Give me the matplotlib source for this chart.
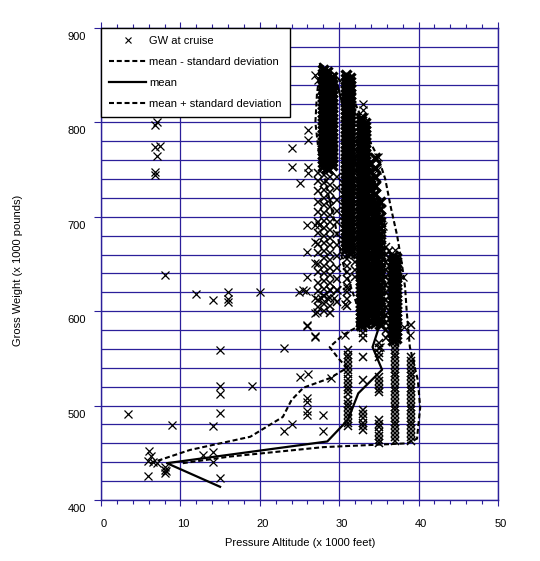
import matplotlib
matplotlib.use("Agg")
import matplotlib.pyplot as plt
import matplotlib.transforms as mtransforms
from matplotlib.lines import Line2D
from matplotlib.ticker import MultipleLocator

plt.rcParams['font.family'] = ['Liberation Sans', 'DejaVu Sans']
plt.rcParams['lines.scale_dashes'] = False

# ---------------- data ----------------
x_ticks = [0, 10, 20, 30, 40, 50]
y_ticks = [400, 500, 600, 700, 800, 900]

legend_labels = ["GW at cruise", "mean - standard deviation", "mean",
                 "mean + standard deviation"]

# mean line (altitude, gross weight)
mean_alt = [15.0, 8.3, 28.5, 31.1, 32.4, 35.4, 34.2, 35.0, 35.5, 35.3, 34.8,
            34.0, 33.0, 32.0, 31.0, 29.8, 27.6]
mean_gw = [414, 439, 462, 485, 513, 538, 562, 583, 598, 610, 640,
           680, 720, 760, 800, 839, 862]

minus_alt = [6.2, 11.2, 18.8, 22.9, 24.0, 25.5, 28.8, 31.0, 29.9, 28.8, 30.5,
             32.2, 32.5, 31.5, 30.5, 29.8, 29.0, 28.2, 27.4, 27.0, 27.2, 27.5, 27.6]
minus_gw = [439, 453, 467, 488, 506, 519, 529, 540, 550, 562, 575,
            583, 600, 625, 650, 680, 710, 740, 770, 800, 830, 850, 862]

plus_alt = [10.3, 16.2, 28.0, 38.5, 39.8, 40.2, 39.9, 38.9, 38.5, 38.3, 37.9,
            37.3, 36.5, 35.8, 34.9, 33.6, 32.8, 31.5, 29.5, 27.6]
plus_gw = [439, 446, 456, 460, 465, 498, 527, 562, 600, 625, 650,
           680, 710, 740, 763, 784, 805, 830, 850, 862]

# scattered cruise points (altitude, gross weight)
sparse_alt = [3.4, 9.0, 6.0, 6.3, 5.9, 6.5, 5.9, 7.0, 8.0, 8.1, 8.0, 8.2, 6.8, 7.0,
              6.8, 7.4, 7.0, 6.8, 6.8, 8.1, 12.0, 14.1, 16.0, 16.0, 16.0, 20.0, 15.0,
              23.0, 15.0, 19.0, 15.0, 15.0, 14.1, 12.8, 14.1, 14.1, 15.0,
              24.9, 25.8, 28.0, 27.2, 26.0, 27.0, 25.0, 26.1, 25.9, 25.9, 25.9, 25.9,
              28.0, 28.0, 24.0, 23.0, 29.0, 26.1, 26.1, 24.0, 24.0, 25.1, 26.1, 26.1,
              25.9, 27.0, 27.5, 27.0, 25.9, 27.0, 25.9, 25.4, 27.0, 27.7, 28.5, 29.3,
              27.0, 27.0, 27.3, 33.0, 33.0, 33.1, 34.9, 34.8, 35.1, 35.5, 37.0, 38.0,
              38.2, 38.9, 30.7, 30.7, 31.0, 28.8, 29.7, 35.1, 27.0, 25.9]
sparse_gw = [491, 479, 452, 447, 441, 440, 425, 439, 435, 432, 429, 431, 797, 800,
             774, 775, 764, 747, 744, 638, 618, 612, 620, 613, 610, 620, 559,
             561, 521, 521, 512, 492, 478, 448, 451, 440, 423,
             620, 621, 617, 599, 584, 574, 530, 533, 508, 504, 494, 490,
             490, 473, 481, 473, 529, 792, 781, 773, 753, 736, 753, 746,
             691, 691, 691, 673, 663, 651, 636, 622, 614, 614, 614, 614,
             598, 850, 845, 820, 813, 806, 763, 750, 693, 690, 665, 636,
             583, 575, 575, 608, 625, 622, 622, 562, 573, 585]

# flight-level columns with many cruise points: column altitude, weights
col_alt = [27.9, 28.5, 29.1, 27.3, 28.1, 28.9, 29.7, 30.8, 31.3, 31.0, 32.0,
           32.7, 33.2, 33.9, 34.5, 35.1, 35.9, 36.3, 36.8, 37.2,
           31.1, 33.0, 35.0, 37.0, 39.1]
col_gw = [
    [754, 758, 762, 767, 771, 775, 779, 783, 787, 791, 795, 799, 803, 807, 811,
     815, 819, 823, 827, 831, 835, 839, 843, 847, 851, 855],
    [752, 756, 760, 764, 769, 773, 777, 781, 785, 789, 793, 797, 801, 805, 809,
     813, 817, 821, 825, 829, 833, 837, 841, 845, 849, 853],
    [755, 759, 763, 767, 771, 776, 780, 784, 788, 792, 796, 800, 804, 808, 812,
     816, 820, 824, 828, 832, 836, 840, 844, 848],
    [604, 612, 621, 630, 641, 650, 662, 671, 683, 694, 705, 716, 727, 738, 746],
    [600, 608, 616, 624, 632, 640, 648, 656, 664, 672, 680, 688, 696, 704, 712,
     720, 728, 736, 744],
    [598, 606, 614, 622, 630, 638, 646, 654, 662, 670, 678, 686, 694, 702, 710,
     718, 726, 734, 742, 750],
    [610, 622, 634, 646, 658, 670, 682, 694, 706, 718, 730, 742],
    [666, 670, 674, 678, 682, 686, 690, 694, 698, 702, 706, 710, 714, 718, 722,
     726, 730, 734, 738, 742, 746, 750, 754, 758, 762, 766, 770, 774, 778, 782,
     786, 790, 794, 798, 802, 806, 810, 814, 818, 822, 826, 830, 834, 838, 842,
     846, 850],
    [662, 667, 671, 675, 679, 683, 688, 692, 696, 700, 704, 709, 713, 717, 721,
     725, 730, 734, 738, 742, 746, 751, 755, 759, 763, 767, 772, 776, 780, 784,
     788, 793, 797, 801, 805, 809, 814, 818, 822, 826, 830, 835, 839, 843, 847],
    [606, 613, 620, 627, 634, 641, 648, 655, 660],
    [636, 644, 652, 660, 668, 676, 684, 692, 700, 708, 716, 724, 732, 740, 748,
     756, 764, 772, 780],
    [585, 589, 593, 597, 601, 605, 609, 613, 617, 621, 625, 629, 633, 637, 641,
     645, 649, 653, 657, 661, 665, 669, 673, 677, 681, 685, 689, 693, 697, 701,
     705, 709, 713, 717, 721, 725, 729, 733, 737, 741, 745, 749, 753, 757, 761,
     765, 769, 773, 777, 781, 785, 789, 793, 797, 801, 805],
    [587, 591, 595, 599, 603, 607, 611, 615, 619, 623, 627, 631, 635, 639, 643,
     647, 651, 655, 659, 663, 667, 671, 675, 679, 683, 687, 691, 695, 699, 703,
     707, 711, 715, 719, 723, 727, 731, 735, 739, 743, 747, 751, 755, 759, 763,
     767, 771, 775, 779, 783, 787, 791, 795, 799],
    [590, 596, 602, 608, 614, 620, 626, 632, 638, 644, 650, 656, 662, 668, 674,
     680, 686, 692, 698, 704, 710, 716, 722, 728, 734, 740, 748, 756],
    [588, 593, 598, 603, 608, 613, 618, 623, 628, 633, 638, 643, 648, 653, 658,
     663, 668, 673, 678, 683, 688, 693, 698, 703, 708, 715, 724, 733, 742, 752, 762],
    [586, 592, 598, 604, 610, 616, 622, 628, 634, 640, 646, 652, 658, 664, 670,
     676, 682, 688, 694, 700, 708, 716],
    [572, 580, 588, 596, 604, 612, 620, 628, 636, 644, 652, 660, 668],
    [576, 584, 592, 600, 608, 616, 624, 632, 640, 648, 656, 664],
    [570, 574, 578, 582, 586, 590, 594, 598, 602, 606, 610, 614, 618, 622, 626,
     630, 634, 638, 642, 646, 650, 654, 658],
    [572, 576, 580, 584, 588, 592, 596, 600, 604, 608, 612, 616, 620, 624, 628,
     632, 636, 640, 644, 648, 652, 656],
    [478, 482, 486, 490, 494, 498, 502, 506, 512, 516, 520, 524, 528, 534, 538,
     542, 546, 550, 554, 559],
    [474, 478, 482, 487, 491, 495, 527, 552, 572, 577, 582, 587],
    [460, 464, 468, 472, 477, 481, 485, 514, 518, 522, 526, 530, 551, 556, 561, 566],
    [463, 467, 471, 475, 479, 483, 487, 491, 495, 499, 503, 507, 511, 515, 519,
     523, 527, 531, 535, 539, 543, 547, 551, 555, 559, 563, 567],
    [463, 467, 471, 475, 479, 483, 487, 491, 495, 499, 503, 507, 511, 515, 519,
     523, 527, 531, 535, 539, 543, 547, 551, 585],
]

# ---------------- figure ----------------
grid_c = '#2b1f9a'
fig = plt.figure(figsize=(5.4, 5.61), dpi=100)
ax = fig.add_axes([101 / 540, 61 / 561, 397 / 540, 472 / 561])

ax.set_xlim(0, 50)
ax.set_ylim(400, 900)
ax.set_xticks(x_ticks)
ax.set_yticks(y_ticks)
ax.xaxis.set_minor_locator(MultipleLocator(2))
ax.yaxis.set_minor_locator(MultipleLocator(20))

ax.grid(which='major', axis='x', color=grid_c, lw=0.9, zorder=0)
ax.grid(which='minor', axis='y', color=grid_c, lw=0.9, zorder=0)
ax.grid(which='major', axis='y', color=grid_c, lw=0.9, zorder=0)
ax.set_axisbelow(True)

for s in ax.spines.values():
    s.set_color(grid_c)
    s.set_linewidth(1.0)

ax.tick_params(axis='x', which='major', direction='out', length=4.5, width=0.8,
               color=grid_c, labelsize=8, pad=9.5, top=True, labeltop=False)
ax.tick_params(axis='x', which='minor', direction='out', length=3, width=0.8,
               color=grid_c, top=True)
ax.tick_params(axis='y', which='major', direction='out', length=5, width=0.8,
               color=grid_c, labelsize=8, pad=6)
ax.tick_params(axis='y', which='minor', length=0)

# scatter points
ax.plot(sparse_alt, sparse_gw, ls='none', marker='x', color='black', ms=5.2,
        mew=0.9, zorder=3)
heavy = {0, 1, 2, 7, 8, 11, 12, 13, 14, 15, 18, 19}
for i, (a, gws) in enumerate(zip(col_alt, col_gw)):
    if i in heavy:
        ax.plot([a] * len(gws), gws, ls='none', marker='x', color='black',
                ms=7, mew=2.4, zorder=3)
    else:
        ax.plot([a] * len(gws), gws, ls='none', marker='x', color='black',
                ms=5.5, mew=1.1, zorder=3)

dash = (3.6, 2.0)
ax.plot(minus_alt, minus_gw, color='black', lw=1.5, ls=(0, dash), zorder=4)
ax.plot(mean_alt, mean_gw, color='black', lw=1.6, zorder=4)
ax.plot(plus_alt, plus_gw, color='black', lw=1.5, ls=(0, dash), zorder=4)

handles = [
    Line2D([], [], ls='none', marker='x', color='black', ms=5, mew=0.8),
    Line2D([], [], color='black', lw=1.5, ls=(0, dash)),
    Line2D([], [], color='black', lw=1.6),
    Line2D([], [], color='black', lw=1.5, ls=(0, dash)),
]
leg = ax.legend(handles, legend_labels, loc='upper left', bbox_to_anchor=(0, 1),
                borderaxespad=0, fancybox=False, framealpha=1, edgecolor='black',
                fontsize=8, handlelength=3.3, handletextpad=0.3, labelspacing=0.98,
                borderpad=0.75, numpoints=1)
leg.get_frame().set_linewidth(1.0)
leg.set_zorder(10)

# tick label offsets to mimic reference
yoff = mtransforms.ScaledTranslation(0, -0.08, fig.dpi_scale_trans)
for lab in ax.get_yticklabels():
    lab.set_transform(lab.get_transform() + yoff)
xoff = mtransforms.ScaledTranslation(0.025, 0, fig.dpi_scale_trans)
for lab in ax.get_xticklabels():
    lab.set_transform(lab.get_transform() + xoff)

fig.text(300 / 540, 1 - 543 / 561, "Pressure Altitude (x 1000 feet)",
         ha='center', va='center', fontsize=8)
fig.text(18 / 540, 1 - 270 / 561, "Gross Weight (x 1000 pounds)",
         ha='center', va='center', rotation=90, fontsize=8)

fig.savefig("out.png", dpi=100, facecolor='white')
